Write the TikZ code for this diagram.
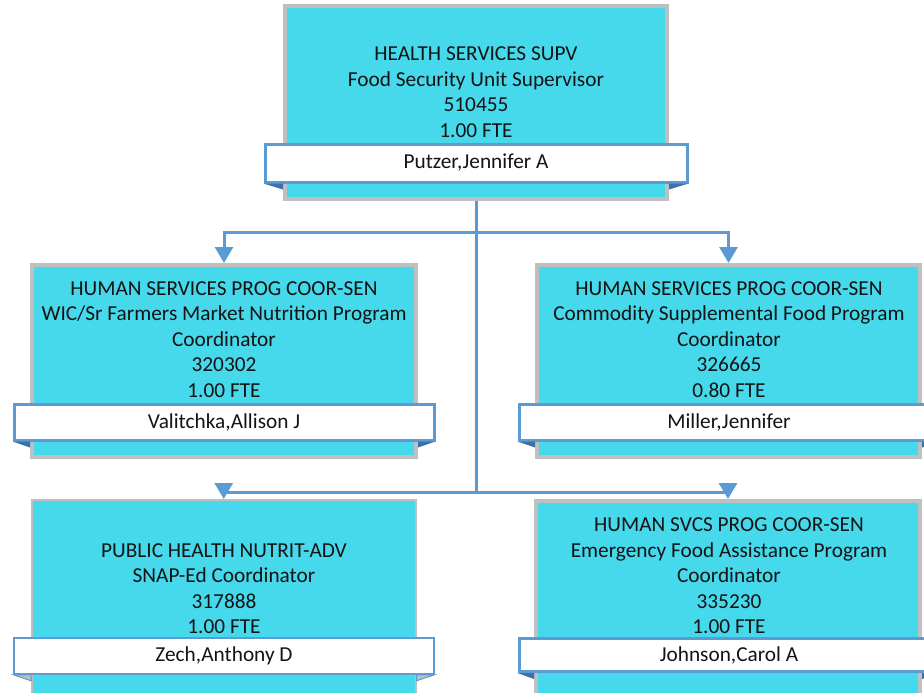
\documentclass[tikz,border=0pt]{standalone}
\usepackage{fontspec}
\setmainfont{Carlito}
\usepackage{tikz}
\usetikzlibrary{arrows.meta, positioning, calc}
\definecolor{posfill}{HTML}{46D8EB}
\definecolor{posgray}{HTML}{BFBFBF}
\definecolor{linkblue}{HTML}{5B9BD5}
\definecolor{folddark}{HTML}{3E70A8}
\definecolor{textdark}{HTML}{141414}
\newcommand{\postfont}{\fontsize{21.3}{25.5}\selectfont}

\begin{document}
\begin{tikzpicture}[x=1pt,y=-1pt,
  posbox/.style={rectangle, draw=posgray, fill=posfill, line width=4pt, anchor=north west, inner sep=0pt},
  namebar/.style={rectangle, draw=linkblue, fill=white, line width=3pt, minimum width=420pt, minimum height=36pt, inner sep=0pt, font=\postfont, text=textdark},
  postext/.style={anchor=south, align=center, inner sep=0pt, font=\postfont, text=textdark, yshift=5pt},
  link/.style={draw=linkblue, line width=3pt},
  linkarrow/.style={link, -{Triangle[width=18pt,length=16pt]}},
  fold/.style={fill=folddark}
]
\useasboundingbox (0,0) rectangle (924,693);

% position boxes
\node[posbox, minimum width=382pt, minimum height=193pt] (sup) at (283,4) {};
\node[posbox, minimum width=384pt, minimum height=192pt] (wic) at (30,263) {};
\node[posbox, minimum width=383pt, minimum height=192pt] (csf) at (535,263) {};
\node[posbox, minimum width=384pt, minimum height=194pt, line width=1.5pt] (snap) at (31,499) {};
\node[posbox, minimum width=384pt, minimum height=194pt] (efa) at (534,499) {};

% name bars
\node[namebar, minimum width=422pt, minimum height=38pt] (supn) at (476,163) {Putzer,Jennifer A};
\node[namebar] (wicn) at (224,422) {Valitchka,Allison J};
\node[namebar] (csfn) at (729,422) {Miller,Jennifer};
\node[namebar, line width=1.5pt] (snapn) at (224,656) {Zech,Anthony D};
\node[namebar, minimum height=33pt] (efan) at (729,655) {Johnson,Carol A};

% folds under the bars
\foreach \b in {sup,wic,csf,efa}{
  \fill[fold] (\b n.south west) -- (\b.west |- \b n.south) -- ++(0,6) -- cycle;
  \fill[fold] (\b n.south east) -- (\b.east |- \b n.south) -- ++(0,6) -- cycle;
}
\filldraw[fill=posgray, draw=linkblue, line width=1pt] (snapn.south west) -- (snap.west |- snapn.south) -- ++(0,6) -- cycle;
\filldraw[fill=posgray, draw=linkblue, line width=1pt] (snapn.south east) -- (snap.east |- snapn.south) -- ++(0,6) -- cycle;

% titles
\node[postext] (supt) at (supn.north) {HEALTH SERVICES SUPV\\Food Security Unit Supervisor\\510455\\1.00 FTE};
\node[postext] (wict) at (wicn.north) {HUMAN SERVICES PROG COOR-SEN\\WIC/Sr Farmers Market Nutrition Program\\Coordinator\\320302\\1.00 FTE};
\node[postext] (csft) at (csfn.north) {HUMAN SERVICES PROG COOR-SEN\\Commodity Supplemental Food Program\\Coordinator\\326665\\0.80 FTE};
\node[postext, yshift=-2pt] (snapt) at (snapn.north) {PUBLIC HEALTH NUTRIT-ADV\\SNAP-Ed Coordinator\\317888\\1.00 FTE};
\node[postext, yshift=-2pt] (efat) at (efan.north) {HUMAN SVCS PROG COOR-SEN\\Emergency Food Assistance Program\\Coordinator\\335230\\1.00 FTE};

% connectors
\coordinate (hub1) at (476,232);
\coordinate (hub2) at (476,492);
\draw[link] (sup.south) -- (hub2);
\draw[linkarrow] (hub1) -| (wic.north);
\draw[linkarrow] (hub1) -| (csf.north);
\draw[linkarrow] (hub2) -| (snap.north);
\draw[linkarrow] (hub2) -| (efa.north);
\end{tikzpicture}
\end{document}
